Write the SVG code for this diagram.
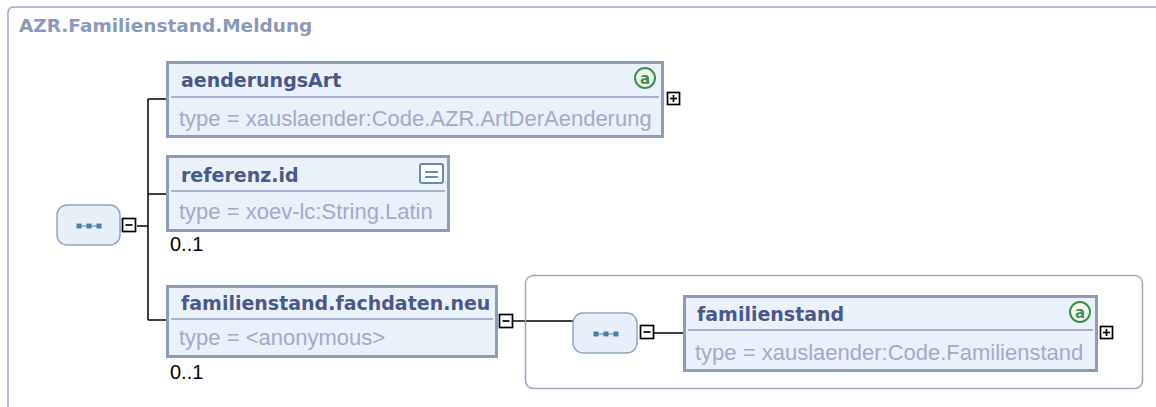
<svg xmlns="http://www.w3.org/2000/svg" width="1156" height="407" viewBox="0 0 1156 407">
<style>
.frame{fill:#ffffff;stroke:#9aa7c4;stroke-width:1.5}
.box{fill:#eaf1fb;stroke:#8d9bbd;stroke-width:3}
.sep{stroke:#8d9bbd;stroke-width:1.5}
.hdr{font-family:"DejaVu Sans",sans-serif;font-weight:bold;font-size:19px;fill:#4a5888}
.typ{font-family:"Liberation Sans",sans-serif;font-size:22px;fill:#a1abc9}
.title{font-family:"DejaVu Sans",sans-serif;font-weight:bold;font-size:18.5px;fill:#8a99ba}
.occ{font-family:"Liberation Sans",sans-serif;font-size:20px;fill:#000000}
.seq{fill:#e7eff9;stroke:#8ea6c8;stroke-width:1.5}
.dot{fill:#4f86b8;stroke:#3a6c9c;stroke-width:0.8}
.dl{stroke:#4f86b8;stroke-width:1}
.tog{fill:#ffffff;stroke:#000000;stroke-width:1.7}
.tg{stroke:#000000;stroke-width:1.7}
.con{stroke:#000000;stroke-width:1.5;fill:none}
.grp{fill:none;stroke:#9aa7c4;stroke-width:1.5}
.attc{fill:#eef6ee;stroke:#3f8f50;stroke-width:2}
.att{font-family:"DejaVu Sans",sans-serif;font-weight:bold;font-size:15px;fill:#3f8f50}
.doc{fill:#ffffff;stroke:#5b8fbf;stroke-width:2}
.docl{stroke:#5b8fbf;stroke-width:2}
</style>
<g id="frame">
<path class="frame" d="M8 420 L8 13 Q8 7 14 7 L1170 7"/>
<text class="title" x="19" y="32">AZR.Familienstand.Meldung</text>
</g>
<g id="connectors">
<line class="con" x1="137" y1="226" x2="148" y2="226"/>
<line class="con" x1="148" y1="99" x2="148" y2="320"/>
<line class="con" x1="148" y1="99" x2="167" y2="99"/>
<line class="con" x1="148" y1="194" x2="167" y2="194"/>
<line class="con" x1="148" y1="320" x2="167" y2="320"/>
<line class="con" x1="513" y1="321" x2="573" y2="321"/>
<line class="con" x1="654" y1="333" x2="683" y2="333"/>
</g>
<g id="seq1">
<rect class="seq" x="57" y="205" width="63" height="40" rx="10"/>
<line class="dl" x1="79" y1="226" x2="99" y2="226"/>
<rect class="dot" x="77" y="224" width="4" height="4"/>
<rect class="dot" x="87" y="224" width="4" height="4"/>
<rect class="dot" x="97" y="224" width="4" height="4"/>
<rect class="tog" x="122.5" y="218.5" width="13" height="13"/>
<line class="tg" x1="125.5" y1="225" x2="132.5" y2="225"/>
</g>
<g id="aenderungsArt">
<rect class="box" x="167.5" y="62.5" width="495" height="74"/>
<line class="sep" x1="171" y1="97" x2="659" y2="97"/>
<text class="hdr" x="181" y="87">aenderungsArt</text>
<text class="typ" x="179" y="126">type = xauslaender:Code.AZR.ArtDerAenderung</text>
<circle class="attc" cx="645" cy="78" r="10"/>
<text class="att" x="645" y="83.5" text-anchor="middle">a</text>
<rect class="tog" x="667.5" y="92.5" width="12" height="12"/>
<line class="tg" x1="670" y1="98.5" x2="677" y2="98.5"/>
<line class="tg" x1="673.5" y1="95" x2="673.5" y2="102"/>
</g>
<g id="referenz.id">
<rect class="box" x="167.5" y="156.5" width="281" height="74"/>
<line class="sep" x1="171" y1="191" x2="445" y2="191"/>
<text class="hdr" x="181" y="182">referenz.id</text>
<text class="typ" x="179" y="219">type = xoev-lc:String.Latin</text>
<rect class="doc" x="420" y="164" width="23" height="19" rx="2"/>
<line class="docl" x1="425" y1="172" x2="438" y2="172"/>
<line class="docl" x1="425" y1="177" x2="438" y2="177"/>
<text class="occ" x="170" y="251">0..1</text>
</g>
<g id="familienstand.fachdaten.neu">
<rect class="box" x="167.5" y="286.5" width="329" height="70"/>
<line class="sep" x1="171" y1="319" x2="493" y2="319"/>
<text class="hdr" x="181" y="310">familienstand.fachdaten.neu</text>
<text class="typ" x="179" y="345">type = &lt;anonymous&gt;</text>
<text class="occ" x="170" y="379">0..1</text>
<rect class="tog" x="499.5" y="314.5" width="13" height="13"/>
<line class="tg" x1="502.5" y1="321" x2="509.5" y2="321"/>
</g>
<g id="group">
<rect class="grp" x="525.5" y="275.5" width="617" height="113" rx="8"/>
</g>
<g id="seq2">
<rect class="seq" x="573" y="313" width="64" height="40" rx="10"/>
<line class="dl" x1="596" y1="334" x2="616" y2="334"/>
<rect class="dot" x="594" y="332" width="4" height="4"/>
<rect class="dot" x="604" y="332" width="4" height="4"/>
<rect class="dot" x="614" y="332" width="4" height="4"/>
<rect class="tog" x="640.5" y="325.5" width="13" height="13"/>
<line class="tg" x1="643.5" y1="332" x2="650.5" y2="332"/>
</g>
<g id="familienstand">
<rect class="box" x="684.5" y="296.5" width="412" height="74"/>
<line class="sep" x1="688" y1="330" x2="1093" y2="330"/>
<text class="hdr" x="697" y="321">familienstand</text>
<text class="typ" x="695" y="360">type = xauslaender:Code.Familienstand</text>
<circle class="attc" cx="1080" cy="312" r="10"/>
<text class="att" x="1080" y="317.5" text-anchor="middle">a</text>
<rect class="tog" x="1100.5" y="326.5" width="12" height="12"/>
<line class="tg" x1="1103" y1="332.5" x2="1110" y2="332.5"/>
<line class="tg" x1="1106.5" y1="329" x2="1106.5" y2="336"/>
</g>
</svg>
